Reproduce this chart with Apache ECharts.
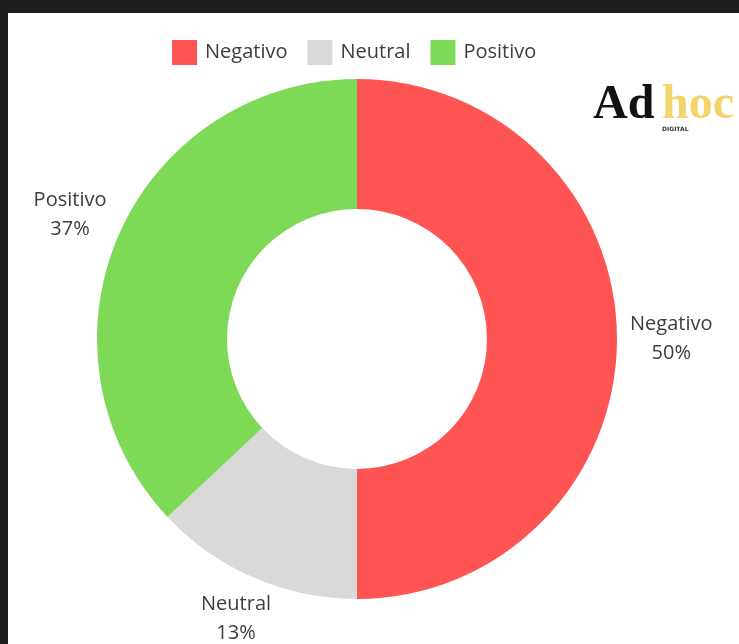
<!DOCTYPE html>
<html>
<head>
<meta charset="utf-8">
<title>Sentimiento</title>
<script src="https://cdn.jsdelivr.net/npm/echarts@6/dist/echarts.min.js"></script>
<style>
	html, body { margin: 0; padding: 0; width: 739px; height: 644px; background: #1e1e1e; overflow: hidden; }
	#chart { position: absolute; left: 8px; top: 13px; width: 731px; height: 631px; background: #ffffff; }
</style>
</head>
<body>
<div id="chart"></div>
<script>
	// datos del gráfico
	var categories = ['Negativo', 'Neutral', 'Positivo'];
	var values = [50, 13, 37];
	var colors = ['#ff5454', '#d9d9d9', '#7ed957'];

	var labelGap = 13;

	// coloca la etiqueta fuera del sector, tocando el radio medio con su borde
	function placeLabel(params) {
		var pts = params.labelLinePoints;
		if (!pts) {
			return;
		}
		var dx = pts[1][0] - pts[0][0];
		var dy = pts[1][1] - pts[0][1];
		var len = Math.sqrt(dx * dx + dy * dy) || 1;
		dx /= len;
		dy /= len;
		var hw = params.labelRect.width / 2;
		var hh = params.labelRect.height / 2;
		var tx = Math.abs(dx) > 1e-6 ? hw / Math.abs(dx) : Infinity;
		var ty = Math.abs(dy) > 1e-6 ? hh / Math.abs(dy) : Infinity;
		var d = labelGap + Math.min(tx, ty);
		return {
			x : pts[0][0] + dx * d,
			y : pts[0][1] + dy * d,
			align : 'center',
			verticalAlign : 'middle'
		};
	}

	var pieData = [];
	for (var i = 0; i < categories.length; i++) {
		pieData.push({
			name : categories[i],
			value : values[i],
			itemStyle : { color : colors[i] }
		});
	}

	var myChart = echarts.init(document.getElementById('chart'));
	var option = {
		animation : false,
		backgroundColor : '#ffffff',
		legend : {
			data : categories,
			left : 159,
			top : 22,
			itemWidth : 25,
			itemHeight : 25,
			itemGap : 20,
			icon : 'rect',
			textStyle : {
				fontFamily : 'Open Sans',
				fontSize : 20,
				color : '#3d3d3d',
				padding : [0, 0, 0, 3]
			}
		},
		// logotipo
		graphic : [ {
			type : 'text',
			left : 585,
			top : 69,
			style : {
				text : 'Ad',
				font : 'bold 48px "Liberation Serif"',
				fill : '#111111'
			}
		}, {
			type : 'text',
			left : 654,
			top : 69,
			style : {
				text : 'hoc',
				font : 'bold 48px "Liberation Serif"',
				fill : '#f2d46b'
			}
		}, {
			type : 'text',
			left : 654,
			top : 113,
			style : {
				text : 'DIGITAL',
				font : 'bold 6px "DejaVu Sans"',
				fill : '#333333'
			}
		} ],
		series : [ {
			type : 'pie',
			center : [349, 326],
			radius : [130, 260],
			startAngle : 90,
			clockwise : true,
			avoidLabelOverlap : false,
			data : pieData,
			label : {
				show : true,
				position : 'outside',
				formatter : '{b}\n{c}%',
				fontFamily : 'Open Sans',
				fontSize : 20,
				lineHeight : 29,
				color : '#3d3d3d'
			},
			labelLine : {
				show : true,
				length : 10,
				length2 : 0,
				lineStyle : { opacity : 0 }
			},
			labelLayout : placeLabel,
			emphasis : { disabled : true }
		} ]
	};
	myChart.setOption(option);
</script>
</body>
</html>
